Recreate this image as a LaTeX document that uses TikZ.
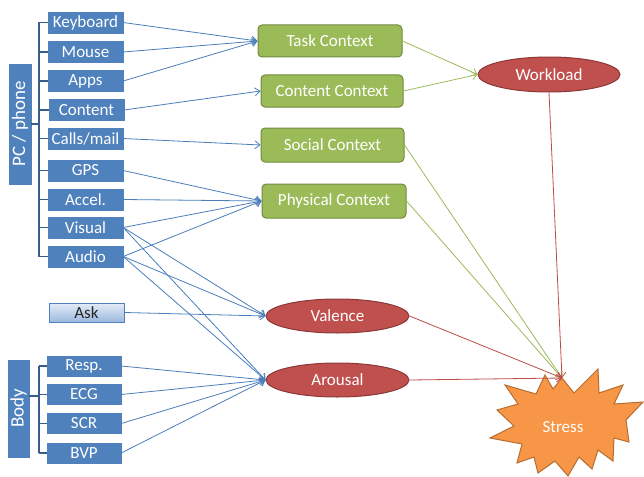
\documentclass[tikz,border=0pt]{standalone}
\usepackage{fontspec}
\setmainfont{Carlito}
\usetikzlibrary{arrows.meta,shapes.geometric}
\definecolor{bbox}{HTML}{4F81BD}
\definecolor{bline}{HTML}{4A7EBB}
\definecolor{brk}{HTML}{385D8A}
\definecolor{gfill}{HTML}{9BBB59}
\definecolor{gdraw}{HTML}{71893F}
\definecolor{rfill}{HTML}{C0504D}
\definecolor{rdraw}{HTML}{8C3836}
\definecolor{ofill}{HTML}{F79646}
\definecolor{odraw}{HTML}{B66D31}
\definecolor{gline}{HTML}{9BBB59}
\definecolor{rline}{HTML}{BE4B48}
\definecolor{askt}{HTML}{E3ECF7}
\definecolor{askb}{HTML}{9DB9DE}
\tikzset{
  src/.style={fill=bbox, draw=bbox, text=white, minimum width=75pt, minimum height=21pt, inner sep=0pt, font=\fontsize{17}{17}\selectfont},
  grp/.style={fill=bbox, draw=bbox, text=white, inner sep=0pt, rotate=90, font=\fontsize{19}{19}\selectfont},
  ctx/.style={fill=gfill, draw=gdraw, line width=1pt, rounded corners=4pt, text=white, inner sep=0pt, minimum height=32pt, font=\fontsize{17}{17}\selectfont},
  ell/.style={ellipse, fill=rfill, draw=rdraw, line width=1pt, text=white, inner sep=0pt, minimum width=143pt, minimum height=34pt, font=\fontsize{17}{17}\selectfont},
  brkline/.style={draw=brk, line width=1.2pt},
  bl/.style={draw=bline, line width=0.8pt, -{Straight Barb[length=5pt,width=8pt]}},
  gl/.style={draw=gline, line width=0.8pt, -{Straight Barb[length=5pt,width=8pt]}},
  rl/.style={draw=rline, line width=0.8pt, -{Straight Barb[length=5pt,width=8pt]}},
}
\begin{document}
\begin{tikzpicture}[x=1pt,y=-1pt]
\useasboundingbox (0,0) rectangle (644,476);
% PC / phone group
\node[grp, minimum width=120pt, minimum height=22pt] (pc) at (20,124) {PC / phone};
\node[src] (kb) at (85.5,22.5) {Keyboard};
\node[src] (mouse) at (85.5,52) {Mouse};
\node[src] (apps) at (85.5,81) {Apps};
\node[src] (content) at (86.5,110) {Content};
\node[src] (calls) at (85.5,138.5) {Calls/mail};
\node[src] (gps) at (85.5,170.5) {GPS};
\node[src] (accel) at (85.5,199.5) {Accel.};
\node[src] (visual) at (85.5,227.5) {Visual};
\node[src] (audio) at (85.5,256.5) {Audio};
\coordinate (pcb) at (39,124);
\coordinate (pct) at (39,22.5);
\coordinate (pcbt) at (39,256.5);
\draw[brkline] (pc.south) -- (pcb);
\draw[brkline] (pct) -- (pcbt);
\foreach \n in {kb,mouse,apps,content,calls,gps,accel,visual,audio}{
  \draw[brkline] (pct |- \n.west) -- (\n.west);
}
% Ask
\node[draw=bbox, line width=0.8pt, top color=askt, bottom color=askb, text=black!85, minimum width=75pt, minimum height=19pt, inner sep=0pt, font=\fontsize{17}{17}\selectfont] (ask) at (86.5,312.5) {Ask};
% Body group
\node[grp, minimum width=97pt, minimum height=21pt] (body) at (18.5,408.5) {Body};
\node[src, minimum width=74pt, minimum height=20pt] (resp) at (84,366) {Resp.};
\node[src, minimum width=74pt, minimum height=20pt] (ecg) at (84,394.5) {ECG};
\node[src, minimum width=74pt, minimum height=20pt] (scr) at (84,423.5) {SCR};
\node[src, minimum width=74pt, minimum height=20pt] (bvp) at (84,453) {BVP};
\coordinate (bdb) at (39,396);
\coordinate (bdt) at (39,366);
\coordinate (bdbt) at (39,453);
\draw[brkline] (body.south |- bdb) -- (bdb);
\draw[brkline] (bdt) -- (bdbt);
\foreach \n in {resp,ecg,scr,bvp}{
  \draw[brkline] (bdt |- \n.west) -- (\n.west);
}
% Contexts
\node[ctx, minimum width=144pt] (task) at (330,41) {Task Context};
\node[ctx, minimum width=142pt] (cctx) at (332,91) {Content Context};
\node[ctx, minimum width=143pt, minimum height=34pt] (social) at (332.5,145) {Social Context};
\node[ctx, minimum width=144pt, minimum height=34pt] (phys) at (334,201) {Physical Context};
% Ellipses
\node[ell, minimum width=142pt, minimum height=35pt] (work) at (549,74.5) {Workload};
\node[ell] (val) at (337.5,316) {Valence};
\node[ell] (aro) at (337.5,380) {Arousal};
% Stress starburst
\draw[fill=ofill, draw=odraw, line width=1pt]
  (562,378) -- (574,393) -- (598,369) -- (599,393) -- (623,385) -- (614,404)
  -- (643,402) -- (626,420) -- (629,442) -- (614,438) -- (613,461) -- (598,450)
  -- (592,469) -- (579,457) -- (568,476) -- (555,461) -- (538,473) -- (534,457)
  -- (517,463) -- (522,444) -- (490,438) -- (514,426) -- (497,410) -- (518,404)
  -- (505,385) -- (536,394) -- (545,375) -- (553,389) -- cycle;
\node[text=white, inner sep=0pt, font=\fontsize{17}{17}\selectfont] (stress) at (563,427) {Stress};
\coordinate (stop) at (562,378);
% Blue connectors
\draw[bl] (kb.east) -- (task.west);
\draw[bl] (mouse.east) -- (task.west);
\draw[bl] (apps.east) -- (task.west);
\draw[bl] (content.east) -- (cctx.west);
\draw[bl] (calls.east) -- (social.west);
\draw[bl] (gps.east) -- (phys.west);
\draw[bl] (accel.east) -- (phys.west);
\draw[bl] (visual.east) -- (phys.west);
\draw[bl] (audio.east) -- (phys.west);
\draw[bl] (visual.east) -- (val.west);
\draw[bl] (audio.east) -- (val.west);
\draw[bl] (ask.east) -- (val.west);
\draw[bl] (visual.east) -- (aro.west);
\draw[bl] (audio.east) -- (aro.west);
\draw[bl] (resp.east) -- (aro.west);
\draw[bl] (ecg.east) -- (aro.west);
\draw[bl] (scr.east) -- (aro.west);
\draw[bl] (bvp.east) -- (aro.west);
% Green connectors
\draw[gl] (task.east) -- (work.west);
\draw[gl] (cctx.east) -- (work.west);
\draw[gl] (social.east) -- (stop);
\draw[gl] (phys.east) -- (stop);
% Red connectors
\draw[rl] (work.south) -- (stop);
\draw[rl] (val.east) -- (stop);
\draw[rl] (aro.east) -- (stop);
\end{tikzpicture}
\end{document}
